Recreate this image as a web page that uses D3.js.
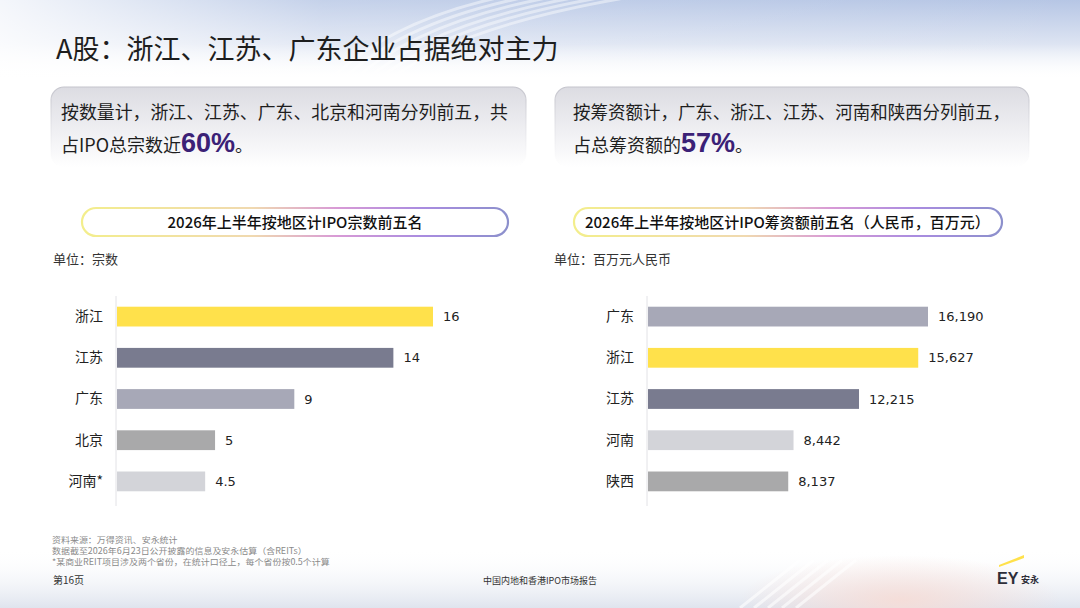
<!DOCTYPE html>
<html><head><meta charset="utf-8">
<script src="https://cdn.jsdelivr.net/npm/d3@7/dist/d3.min.js"></script>
<style>
html,body{margin:0;padding:0;background:#fff;}
svg{display:block;font-family:"Noto Sans CJK SC","Noto Sans",sans-serif;}
</style></head>
<body>
<svg id="c" width="1080" height="608"></svg>
<script>
// ---- data ----
const countCategories = ["浙江","江苏","广东","北京","河南*"];
const countValues = [16, 14, 9, 5, 4.5];
const amountCategories = ["广东","浙江","江苏","河南","陕西"];
const amountValues = [16190, 15627, 12215, 8442, 8137];
const regionColors = {"浙江":"#ffe14b","江苏":"#797b8f","广东":"#a7a8b7","北京":"#a9a9aa","河南*":"#d3d4d9","河南":"#d3d4d9","陕西":"#a9a9aa"};
const titleText = "A股：浙江、江苏、广东企业占据绝对主力";
const leftNote = ["按数量计，浙江、江苏、广东、北京和河南分列前五，共","占IPO总宗数近","60%","。"];
const rightNote = ["按筹资额计，广东、浙江、江苏、河南和陕西分列前五，","占总筹资额的","57%","。"];
const leftChartTitle = "2026年上半年按地区计IPO宗数前五名";
const rightChartTitle = "2026年上半年按地区计IPO筹资额前五名（人民币，百万元）";
const leftUnit = "单位：宗数";
const rightUnit = "单位：百万元人民币";
const footnotes = ["资料来源：万得资讯、安永统计","数据截至2026年6月23日公开披露的信息及安永估算（含REITs）","*某商业REIT项目涉及两个省份，在统计口径上，每个省份按0.5个计算"];
const pageLabel = "第16页";
const reportLabel = "中国内地和香港IPO市场报告";

const svg = d3.select("#c");
const defs = svg.append("defs");

// background gradients
const topG = defs.append("linearGradient").attr("id","topg").attr("x1",0).attr("y1",0).attr("x2",0).attr("y2",1);
topG.append("stop").attr("offset","0%").attr("stop-color","#b6c6e5");
topG.append("stop").attr("offset","55%").attr("stop-color","#dde4f2");
topG.append("stop").attr("offset","100%").attr("stop-color","#ffffff").attr("stop-opacity",0);
const topL = defs.append("linearGradient").attr("id","topl").attr("x1",0).attr("y1",0).attr("x2",1).attr("y2",0);
topL.append("stop").attr("offset","0%").attr("stop-color","#fff").attr("stop-opacity",0.85);
topL.append("stop").attr("offset","30%").attr("stop-color","#fff").attr("stop-opacity",0.2);
topL.append("stop").attr("offset","100%").attr("stop-color","#fff").attr("stop-opacity",0);
const botG = defs.append("linearGradient").attr("id","botg").attr("x1",0).attr("y1",0).attr("x2",0).attr("y2",1);
botG.append("stop").attr("offset","0%").attr("stop-color","#ffffff").attr("stop-opacity",0);
botG.append("stop").attr("offset","100%").attr("stop-color","#dfe4ee");
const pink = defs.append("radialGradient").attr("id","pink");
pink.append("stop").attr("offset","0%").attr("stop-color","#f6dcd6").attr("stop-opacity",0.9);
pink.append("stop").attr("offset","100%").attr("stop-color","#f6dcd6").attr("stop-opacity",0);

svg.append("rect").attr("width",1080).attr("height",608).attr("fill","#fff");
svg.append("rect").attr("width",1080).attr("height",80).attr("fill","url(#topg)");
svg.append("rect").attr("width",1080).attr("height",80).attr("fill","url(#topl)");
[0,12,24,36,48,60].forEach(d=>{
  svg.append("path").attr("d",`M${330+d},80 Q${420+d},${-10+d*0.3} ${640+d*2},${-20}`)
    .attr("fill","none").attr("stroke","#fff").attr("stroke-opacity",0.45).attr("stroke-width",3);
});
svg.append("rect").attr("y",548).attr("width",1080).attr("height",60).attr("fill","url(#botg)");
svg.append("ellipse").attr("cx",900).attr("cy",600).attr("rx",160).attr("ry",45).attr("fill","url(#pink)");
[0,14,28,42,56].forEach(d=>{
  svg.append("path").attr("d",`M${740+d},608 L${800+d},560`).attr("stroke","#fff").attr("stroke-opacity",0.6).attr("stroke-width",3);
});

// title
svg.append("text").attr("x",56).attr("y",59).attr("font-size",27).attr("fill","#1e1e1e").text(titleText);

// note boxes
const boxG = defs.append("linearGradient").attr("id","boxg").attr("x1",0).attr("y1",0).attr("x2",0).attr("y2",1);
boxG.append("stop").attr("offset","0%").attr("stop-color","#dcdce2");
boxG.append("stop").attr("offset","60%").attr("stop-color","#f1f1f4");
boxG.append("stop").attr("offset","100%").attr("stop-color","#ffffff");
const boxS = defs.append("linearGradient").attr("id","boxs").attr("x1",0).attr("y1",0).attr("x2",0).attr("y2",1);
boxS.append("stop").attr("offset","0%").attr("stop-color","#c4c4cc");
boxS.append("stop").attr("offset","70%").attr("stop-color","#e6e6ea").attr("stop-opacity",0.4);
boxS.append("stop").attr("offset","100%").attr("stop-color","#fff").attr("stop-opacity",0);

function noteBox(x, w, tx, len1, lines){
  svg.append("rect").attr("x",x).attr("y",87).attr("width",w).attr("height",80).attr("rx",13)
    .attr("fill","url(#boxg)").attr("stroke","url(#boxs)").attr("stroke-width",1.2);
  svg.append("text").attr("x",tx).attr("y",119).attr("font-size",18).attr("fill","#1e1e1e")
    .attr("textLength",len1).attr("lengthAdjust","spacingAndGlyphs").text(lines[0]);
  const t = svg.append("text").attr("x",tx).attr("y",152).attr("font-size",18).attr("fill","#1e1e1e");
  t.append("tspan").text(lines[1]);
  t.append("tspan").attr("font-size",27).attr("font-weight",700).attr("fill","#3b2176")
    .attr("font-family","'Liberation Sans',Arial,sans-serif").text(lines[2]);
  t.append("tspan").text(lines[3]);
}
noteBox(51, 475, 61, 447, leftNote);
noteBox(555, 474, 573, 437, rightNote);

// pill titles
const pillG = defs.append("linearGradient").attr("id","pillg").attr("x1",0).attr("y1",0).attr("x2",1).attr("y2",0);
pillG.append("stop").attr("offset","0%").attr("stop-color","#f3ee8c");
pillG.append("stop").attr("offset","40%").attr("stop-color","#f0d9b0");
pillG.append("stop").attr("offset","60%").attr("stop-color","#d89ad6");
pillG.append("stop").attr("offset","80%").attr("stop-color","#a98ce0");
pillG.append("stop").attr("offset","100%").attr("stop-color","#8c90cc");
function pill(x, w, textX, anchor, txt){
  svg.append("rect").attr("x",x).attr("y",208).attr("width",w).attr("height",28).attr("rx",14)
    .attr("fill","#fff").attr("stroke","url(#pillg)").attr("stroke-width",2.2);
  svg.append("text").attr("x",textX).attr("y",227.5).attr("text-anchor",anchor).attr("font-size",15)
    .attr("font-weight",500).attr("fill","#111").text(txt);
}
pill(82, 426, 295, "middle", leftChartTitle);
pill(574, 428, 585, "start", rightChartTitle);

svg.append("text").attr("x",53).attr("y",264).attr("font-size",13).attr("fill","#333").text(leftUnit);
svg.append("text").attr("x",554).attr("y",264).attr("font-size",13).attr("fill","#333").text(rightUnit);

// bar charts
function barChart(x0, width, cats, vals, fmt){
  const x = d3.scaleLinear().domain([0, d3.max(vals)]).range([x0, x0 + width]);
  const y = d3.scaleBand().domain(cats).range([296, 502]).paddingInner(0.52).paddingOuter(0.26);
  const g = svg.append("g");
  g.append("line").attr("x1",x0).attr("x2",x0).attr("y1",296).attr("y2",506).attr("stroke","#e2e2e6").attr("stroke-width",1);
  const ax = g.append("g").attr("transform",`translate(${x0},0)`)
    .call(d3.axisLeft(y).tickSize(0).tickPadding(13));
  ax.select(".domain").remove();
  ax.selectAll("text").attr("font-size",14).attr("fill","#222").attr("font-family","'Noto Sans CJK SC',sans-serif");
  g.selectAll("rect.bar").data(cats).join("rect").attr("class","bar")
    .attr("x",x0+1).attr("y",d=>y(d)).attr("height",y.bandwidth())
    .attr("width",(d,i)=>x(vals[i])-x0-1).attr("fill",d=>regionColors[d]);
  g.selectAll("text.val").data(cats).join("text").attr("class","val")
    .attr("x",(d,i)=>x(vals[i])+10).attr("y",d=>y(d)+y.bandwidth()/2).attr("dy","0.36em")
    .attr("font-family","'DejaVu Sans',sans-serif").attr("font-size",13).attr("fill","#222")
    .text((d,i)=>fmt(vals[i]));
}
barChart(116, 317, countCategories, countValues, d=>String(d));
barChart(647, 281, amountCategories, amountValues, d3.format(","));

// footnotes (slightly widened to match reference width)
footnotes.forEach((f,i)=>{
  const t = svg.append("text").attr("x",52).attr("y",543+i*11).attr("font-size",8.5).attr("fill","#8a8a8a").text(f);
  const len = t.node().getComputedTextLength();
  t.attr("textLength", len*1.055).attr("lengthAdjust","spacingAndGlyphs");
});
svg.append("text").attr("x",53).attr("y",584).attr("font-size",10).attr("fill","#333").text(pageLabel);
svg.append("text").attr("x",540).attr("y",584).attr("text-anchor","middle").attr("font-size",9).attr("fill","#333").text(reportLabel);

// EY logo
svg.append("path").attr("d","M999,565 L1024,555 L1024,558 L999,567 Z").attr("fill","#ffe14b");
svg.append("text").attr("x",997).attr("y",584).attr("font-family","'Liberation Sans',Arial,sans-serif")
  .attr("font-weight",700).attr("font-size",16).attr("fill","#2e2e38").text("EY");
svg.append("text").attr("x",1021).attr("y",583).attr("font-size",9).attr("font-weight",700).attr("fill","#2e2e38").text("安永");
</script>
</body></html>
